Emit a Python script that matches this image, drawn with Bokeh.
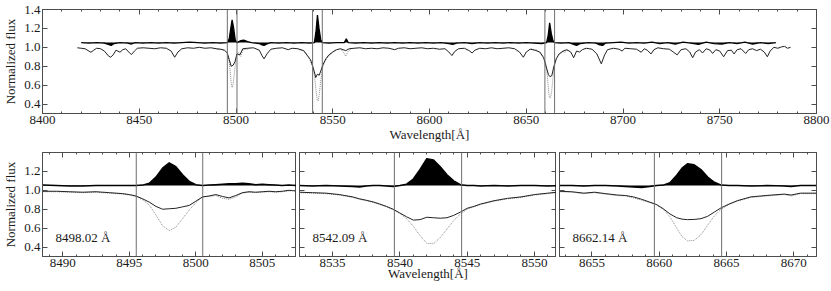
from bokeh.plotting import figure
from bokeh.layouts import column, row
from bokeh.models import (Span, Label, LinearAxis, SingleIntervalTicker,
                          FixedTicker, PrintfTickFormatter, Range1d, CustomLabelingPolicy)
from bokeh.embed import file_html
from bokeh.resources import INLINE

# ---------------- data ----------------
# overview spectrum (observed, solid)
top_wl = [8418, 8420, 8422, 8424, 8425, 8426.5, 8428, 8430, 8432, 8434, 8435.2, 8436.5,
          8438, 8440, 8441.5, 8443, 8445, 8446, 8447.5, 8449, 8452, 8455, 8458, 8461,
          8464, 8466.5, 8468.3, 8470, 8472, 8475, 8478, 8481, 8484, 8487, 8490, 8492,
          8494, 8495.5, 8496.5, 8497.5, 8498.5, 8499.5, 8500.5, 8502, 8503.5, 8506, 8509,
          8512, 8513.5, 8514.5, 8516, 8518, 8521, 8524, 8527, 8529, 8532, 8535, 8537,
          8538.5, 8539.5, 8540.5, 8541.2, 8542, 8543, 8544, 8545, 8546.5, 8548, 8550,
          8552, 8554, 8556.7, 8558.5, 8561, 8564, 8567, 8570, 8573, 8576, 8579, 8582,
          8584, 8587, 8590, 8593, 8596, 8599, 8602, 8605, 8608, 8610, 8611.6, 8613, 8615,
          8618, 8620.5, 8622, 8623.5, 8626, 8629, 8632, 8635, 8638, 8641, 8644, 8646.5,
          8648.5, 8650, 8652, 8654.5, 8657, 8659, 8660.5, 8661.5, 8662.2, 8663.2, 8664.3,
          8665.5, 8667, 8669, 8671, 8673, 8674.5, 8676, 8677.6, 8679, 8681, 8684, 8686.5,
          8688.8, 8690.5, 8692, 8695, 8698, 8699.5, 8701, 8704, 8707, 8709.4, 8711,
          8712.5, 8714.5, 8716, 8718, 8721, 8724, 8726, 8728, 8730, 8732.5, 8734.5, 8736,
          8737.5, 8739.5, 8741.1, 8743, 8745, 8746.3, 8748, 8750, 8752, 8754, 8756,
          8757.4, 8759, 8761, 8763.4, 8765, 8767, 8769, 8771, 8773, 8774.6, 8776, 8778,
          8780, 8782, 8783.5, 8785, 8786.6]
top_obs = [0.995, 0.99, 0.985, 0.96, 0.948, 0.97, 0.99, 0.985, 0.96, 0.91, 0.895, 0.92,
           0.97, 0.948, 0.975, 0.985, 0.94, 0.924, 0.96, 0.99, 0.995, 0.99, 0.985, 0.995,
           0.99, 0.96, 0.895, 0.95, 0.985, 0.995, 0.99, 1.0, 0.99, 0.995, 0.985, 0.98,
           0.97, 0.94, 0.87, 0.80, 0.81, 0.85, 0.93, 0.92, 0.985, 0.99, 0.995,
           0.97, 0.91, 0.878, 0.93, 0.98, 0.99, 0.995, 0.975, 0.99, 0.985, 0.965, 0.91,
           0.87, 0.81, 0.74, 0.68, 0.715, 0.705, 0.76, 0.82, 0.88, 0.92, 0.95,
           0.975, 0.985, 0.965, 0.985, 0.99, 0.995, 0.985, 0.99, 0.985, 0.995, 0.99, 0.975,
           0.99, 0.995, 0.985, 0.99, 0.995, 0.985, 0.99, 0.98, 0.985, 0.95, 0.913, 0.955, 0.985,
           0.99, 0.965, 0.94, 0.97, 0.99, 0.985, 0.995, 0.985, 0.99, 0.995, 0.985, 0.95,
           0.895, 0.95, 0.98, 0.97, 0.95, 0.89, 0.78, 0.71, 0.69, 0.70, 0.80,
           0.88, 0.93, 0.96, 0.975, 0.95, 0.89, 0.96, 0.95, 0.975, 0.99, 0.98, 0.93,
           0.825, 0.92, 0.975, 0.99, 0.98, 0.96, 0.99, 0.985, 0.98, 0.948, 0.985,
           0.97, 0.93, 0.975, 0.995, 0.985, 0.98, 0.95, 0.92, 0.975, 0.985, 0.95, 0.89,
           0.95, 0.975, 0.94, 0.985, 0.97, 0.935, 0.975, 0.96, 0.90, 0.965, 0.97,
           0.93, 0.975, 0.985, 0.935, 0.975, 0.985, 0.965, 0.98, 0.95, 0.90, 0.96, 1.0,
           0.99, 1.005, 1.01, 0.99, 1.0]

# template around the one non-CaT line that differs (8557)
tmpl_extra_wl = [8554, 8555.5, 8556.7, 8558, 8559.5]
tmpl_extra = [0.985, 0.95, 0.905, 0.96, 0.985]

# overview residual (observed - template, offset)
top_res_wl = [8420, 8424, 8428, 8432, 8434, 8435.5, 8437, 8440, 8444, 8446, 8448, 8452,
              8456, 8460, 8464, 8468, 8472, 8476, 8480, 8484, 8488, 8492, 8495.5, 8496.5,
              8497.3, 8498, 8498.8, 8499.6, 8500.5, 8502.5, 8504, 8506, 8508, 8510, 8512,
              8513.5, 8514.5, 8516, 8518, 8522, 8526, 8530, 8534, 8538, 8540.5, 8541.3,
              8542.1, 8542.9, 8543.8, 8544.6, 8548, 8552, 8556, 8557, 8558, 8562, 8566,
              8570, 8574, 8578, 8582, 8586, 8590, 8594, 8598, 8602, 8606, 8610, 8612, 8614,
              8618, 8622, 8626, 8630, 8634, 8638, 8642, 8646, 8650, 8654, 8658, 8660.5,
              8661.3, 8662.1, 8662.9, 8663.8, 8664.6, 8668, 8672, 8674.5, 8676, 8678, 8682,
              8686, 8688, 8689.5, 8691, 8695, 8699, 8703, 8707, 8711, 8715, 8719, 8723,
              8727, 8731, 8735, 8739, 8743, 8747, 8751, 8755, 8759, 8763, 8767, 8771, 8775,
              8779]
top_res = [1.05, 1.045, 1.05, 1.045, 1.03, 1.02, 1.04, 1.05, 1.045, 1.035, 1.05, 1.045,
           1.05, 1.045, 1.05, 1.045, 1.05, 1.055, 1.05, 1.045, 1.05, 1.045, 1.05, 1.09,
           1.2, 1.29, 1.2, 1.08, 1.05, 1.07, 1.075, 1.06, 1.05, 1.045, 1.04,
           1.025, 1.02, 1.035, 1.05, 1.045, 1.05, 1.045, 1.05, 1.045, 1.05, 1.16,
           1.34, 1.2, 1.08, 1.05, 1.045, 1.05, 1.05, 1.09, 1.05, 1.045, 1.05,
           1.045, 1.05, 1.045, 1.05, 1.045, 1.05, 1.045, 1.05, 1.045, 1.05, 1.04, 1.03, 1.045,
           1.05, 1.04, 1.05, 1.045, 1.05, 1.045, 1.05, 1.045, 1.05, 1.045, 1.04, 1.05,
           1.12, 1.26, 1.15, 1.07, 1.05, 1.045, 1.05, 1.03, 1.02, 1.04, 1.05,
           1.045, 1.025, 1.02, 1.045, 1.05, 1.055, 1.045, 1.05, 1.045, 1.055, 1.04, 1.05,
           1.035, 1.055, 1.045, 1.03, 1.055, 1.04, 1.035, 1.05, 1.04, 1.055, 1.035, 1.05, 1.04,
           1.05]

# Ca II triplet lines: centres and the integration windows
ca_centers = [8498.02, 8542.09, 8662.14]
win_lo = [8495.52, 8539.59, 8659.64]
win_hi = [8500.52, 8544.59, 8664.64]

# zoom panel 1 (8498.02)
ca1_wl = [8488.5, 8489.5, 8490.5, 8491.5, 8492.5, 8493.5, 8494.5, 8495.0, 8495.5, 8496.0,
          8496.5, 8497.0, 8497.5, 8498.0, 8498.5, 8499.0, 8499.5, 8500.0, 8500.5, 8501.0,
          8501.5, 8502.0, 8502.5, 8503.0, 8503.5, 8504.0, 8504.5, 8505.0, 8505.5, 8506.0,
          8506.5, 8507.0, 8507.6]
ca1_obs = [0.99, 0.99, 0.985, 0.98, 0.985, 0.975, 0.965, 0.955, 0.94, 0.91,
           0.875, 0.83, 0.80, 0.805, 0.81, 0.825, 0.84, 0.885, 0.93, 0.94,
           0.955, 0.935, 0.92, 0.945, 0.975, 0.985, 0.98, 0.985, 0.99, 0.985,
           0.99, 1.0, 0.995]
ca1_tmpl = [0.985, 0.985, 0.98, 0.975, 0.98, 0.97, 0.96, 0.95, 0.935, 0.90,
            0.845, 0.74, 0.625, 0.575, 0.61, 0.70, 0.79, 0.87, 0.93, 0.935,
            0.945, 0.915, 0.905, 0.93, 0.97, 0.98, 0.975, 0.98, 0.985, 0.98,
            0.985, 0.995, 0.99]
ca1_res = [1.055, 1.05, 1.045, 1.045, 1.05, 1.05, 1.05, 1.05, 1.05, 1.055,
           1.075, 1.14, 1.235, 1.29, 1.25, 1.165, 1.095, 1.06, 1.05, 1.055,
           1.06, 1.065, 1.07, 1.07, 1.075, 1.07, 1.06, 1.065, 1.06, 1.055,
           1.05, 1.055, 1.05]

# zoom panel 2 (8542.09)
ca2_wl = [8532.5, 8533.5, 8534.5, 8535.5, 8536.5, 8537.0, 8537.5, 8538.0, 8538.5, 8539.0,
          8539.5, 8540.0, 8540.5, 8541.0, 8541.5, 8542.0, 8542.5, 8543.0, 8543.5, 8544.0,
          8544.5, 8545.0, 8545.5, 8546.0, 8547.0, 8548.0, 8549.0, 8550.0, 8551.0, 8551.7]
ca2_obs = [0.98, 0.975, 0.97, 0.955, 0.93, 0.91, 0.895, 0.878, 0.855, 0.83,
           0.80, 0.76, 0.72, 0.685, 0.69, 0.715, 0.71, 0.705, 0.71, 0.735,
           0.77, 0.81, 0.83, 0.855, 0.89, 0.915, 0.93, 0.955, 0.97, 0.98]
ca2_tmpl = [0.975, 0.97, 0.965, 0.95, 0.925, 0.905, 0.89, 0.873, 0.85, 0.825,
            0.795, 0.755, 0.70, 0.62, 0.52, 0.44, 0.435, 0.50, 0.59, 0.68,
            0.75, 0.80, 0.825, 0.85, 0.885, 0.91, 0.925, 0.95, 0.965, 0.975]
ca2_res = [1.05, 1.045, 1.05, 1.045, 1.04, 1.035, 1.045, 1.05, 1.05, 1.045,
           1.04, 1.05, 1.065, 1.12, 1.22, 1.335, 1.32, 1.25, 1.165, 1.10,
           1.06, 1.05, 1.05, 1.045, 1.05, 1.045, 1.05, 1.05, 1.045, 1.05]

# zoom panel 3 (8662.14)
ca3_wl = [8652.6, 8653.5, 8654.4, 8655.2, 8656.0, 8656.9, 8657.5, 8658.1, 8658.7, 8659.3,
          8659.8, 8660.3, 8660.8, 8661.3, 8661.7, 8662.1, 8662.6, 8663.1, 8663.6, 8664.1,
          8664.6, 8665.2, 8665.8, 8666.8, 8668.0, 8669.3, 8669.8, 8670.5, 8671.7]
ca3_obs = [0.99, 0.985, 0.97, 0.98, 0.965, 0.95, 0.945, 0.93, 0.905, 0.875,
           0.85, 0.805, 0.75, 0.71, 0.695, 0.69, 0.692, 0.70, 0.725, 0.77,
           0.815, 0.855, 0.89, 0.93, 0.946, 0.96, 0.95, 0.97, 0.97]
ca3_tmpl = [0.985, 0.98, 0.965, 0.975, 0.96, 0.945, 0.94, 0.92, 0.895, 0.87,
            0.845, 0.80, 0.72, 0.60, 0.51, 0.465, 0.47, 0.53, 0.63, 0.73,
            0.80, 0.85, 0.885, 0.925, 0.94, 0.955, 0.94, 0.965, 0.965]
ca3_res = [1.05, 1.05, 1.045, 1.05, 1.05, 1.045, 1.04, 1.035, 1.03, 1.04,
           1.05, 1.055, 1.08, 1.16, 1.235, 1.28, 1.27, 1.22, 1.14, 1.085,
           1.055, 1.05, 1.05, 1.045, 1.05, 1.045, 1.04, 1.05, 1.05]

top_xticks_major = 50
y_ticks_top = [0.4, 0.6, 0.8, 1.0, 1.2, 1.4]
y_ticks_bottom = [0.4, 0.6, 0.8, 1.0, 1.2]

# ---------------- style ----------------
FONT = '"Liberation Serif", serif'
FS = "13px"
FRAME = "#4d4d4d"
TXT = "#1a1a1a"
VLINE = "#6e6e6e"
RES_BASE = 1.05
Y0, Y1 = 0.3, 1.4
HALF = 9.55


def style_axis(ax, ticker, labels=True, fmt=None):
    ax.ticker = ticker
    if fmt is not None:
        ax.formatter = PrintfTickFormatter(format=fmt)
    ax.major_tick_in = 5
    ax.major_tick_out = 0
    ax.minor_tick_in = 2
    ax.minor_tick_out = 0
    ax.axis_line_color = FRAME
    ax.major_tick_line_color = FRAME
    ax.minor_tick_line_color = FRAME
    ax.major_label_text_font = FONT
    ax.major_label_text_color = TXT
    ax.axis_label_text_font = FONT
    ax.axis_label_text_font_style = "normal"
    ax.axis_label_text_font_size = FS
    ax.axis_label_text_color = TXT
    ax.axis_label_standoff = 0
    if labels:
        ax.major_label_text_font_size = FS
        ax.major_label_standoff = 2
    else:
        ax.major_label_text_font_size = "0px"
        ax.major_label_standoff = 0
        ax.major_label_policy = CustomLabelingPolicy(code="return new Set()")


def make_fig(w, h, xr, mb):
    p = figure(width=w, height=h, x_range=Range1d(*xr), y_range=Range1d(Y0, Y1),
               output_backend="svg", toolbar_location=None,
               min_border_left=mb[0], min_border_right=mb[1],
               min_border_top=mb[2], min_border_bottom=mb[3])
    p.grid.visible = False
    p.outline_line_color = FRAME
    p.outline_line_width = 1
    p.background_fill_color = "white"
    p.border_fill_color = "white"
    return p


def add_mirrors(p, xticker_fn, yticker_fn):
    top = LinearAxis()
    style_axis(top, xticker_fn(), labels=False)
    p.add_layout(top, "above")
    right = LinearAxis()
    style_axis(right, yticker_fn(), labels=False)
    p.add_layout(right, "right")


def draw_spectrum(p, wl, obs, res, width_res=1.3):
    p.line(wl, obs, line_color="#222222", line_width=1)
    p.varea(x=wl, y1=[RES_BASE] * len(wl), y2=res, fill_color="black")
    p.line(wl, res, line_color="black", line_width=width_res)


# ---------------- top overview panel ----------------
top = make_fig(831, 148, (8400, 8800), (39, 15, 9, 35))
style_axis(top.xaxis[0], SingleIntervalTicker(interval=top_xticks_major, num_minor_ticks=5), fmt="%d")
style_axis(top.yaxis[0], FixedTicker(ticks=y_ticks_top, minor_ticks=[]), fmt="%.1f")
top.xaxis[0].axis_label = "Wavelength[Å]"
top.yaxis[0].axis_label = "Normalized flux"
top.yaxis[0].axis_label_standoff = 3
add_mirrors(top, lambda: SingleIntervalTicker(interval=top_xticks_major, num_minor_ticks=5),
            lambda: FixedTicker(ticks=y_ticks_top, minor_ticks=[]))

for wl, tm in [(ca1_wl, ca1_tmpl), (ca2_wl, ca2_tmpl), (ca3_wl, ca3_tmpl),
               (tmpl_extra_wl, tmpl_extra)]:
    top.line(wl, tm, line_color="#8c8c8c", line_width=1, line_dash="1 1")
top.line(top_wl, top_obs, line_color="#222222", line_width=1)
top.varea(x=top_res_wl, y1=[RES_BASE] * len(top_res_wl), y2=top_res, fill_color="black")
top.line(top_res_wl, top_res, line_color="black", line_width=1.3)
for lo, hi in zip(win_lo, win_hi):
    top.add_layout(Span(location=lo, dimension="height", line_color=VLINE, line_width=1))
    top.add_layout(Span(location=hi, dimension="height", line_color=VLINE, line_width=1))

# ---------------- bottom zoom panels ----------------
panels = [(ca1_wl, ca1_obs, ca1_tmpl, ca1_res),
          (ca2_wl, ca2_obs, ca2_tmpl, ca2_res),
          (ca3_wl, ca3_obs, ca3_tmpl, ca3_res)]
widths = [296, 260, 275]
borders = [(39, 0, 4, 35), (3, 0, 4, 35), (3, 15, 4, 35)]
bottom = []
for i, (wl, obs, tm, res) in enumerate(panels):
    c = ca_centers[i]
    p = make_fig(widths[i], 143, (c - HALF, c + HALF), borders[i])
    xt = lambda: SingleIntervalTicker(interval=5, num_minor_ticks=5)
    yt = lambda: FixedTicker(ticks=y_ticks_bottom, minor_ticks=[])
    style_axis(p.xaxis[0], xt(), fmt="%d")
    style_axis(p.yaxis[0], yt(), labels=(i == 0), fmt="%.1f")
    if i == 0:
        p.yaxis[0].axis_label = "Normalized flux"
        p.yaxis[0].axis_label_standoff = 3
    if i == 1:
        p.xaxis[0].axis_label = "Wavelength[Å]"
        p.xaxis[0].axis_label_standoff = -4
    add_mirrors(p, xt, yt)
    p.line(wl, tm, line_color="#8c8c8c", line_width=1, line_dash="1 1")
    draw_spectrum(p, wl, obs, res, width_res=1.5)
    p.add_layout(Span(location=win_lo[i], dimension="height", line_color=VLINE, line_width=1))
    p.add_layout(Span(location=win_hi[i], dimension="height", line_color=VLINE, line_width=1))
    p.add_layout(Label(x=c - HALF, y=0.5, x_offset=13, text=f"{c:.2f} Å",
                       text_font=FONT, text_font_size=FS, text_color=TXT,
                       text_baseline="alphabetic"))
    bottom.append(p)

layout = column(top, row(*bottom, spacing=0), spacing=0)
open("out.html", "w").write(file_html(layout, INLINE))
